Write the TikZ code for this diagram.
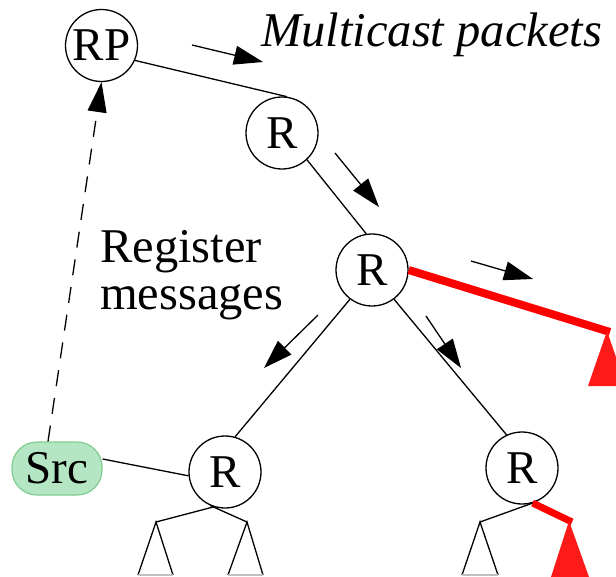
\documentclass[tikz,border=0pt]{standalone}
\usepackage{fontspec}
\setmainfont{Liberation Serif}
\usetikzlibrary{arrows.meta}
\definecolor{srcfill}{HTML}{B4E6C3}
\definecolor{srcdraw}{HTML}{80CC90}
\definecolor{treered}{HTML}{FF0000}
\definecolor{trifill}{HTML}{FF1A1A}
\definecolor{basegray}{HTML}{C0C0C0}
\tikzset{
  router/.style={draw, circle, minimum size=72pt, inner sep=0pt, line width=1.3pt,
    font=\fontsize{47}{47}\selectfont},
  srcbox/.style={draw=srcdraw, fill=srcfill, rectangle, rounded corners=25pt,
    minimum width=90pt, minimum height=53pt, inner sep=0pt, line width=1.2pt,
    font=\fontsize{47}{47}\selectfont},
  link/.style={line width=1.3pt},
  pkt/.style={line width=1.3pt, -{Triangle[length=29pt,width=19pt]}},
  reg/.style={line width=1.3pt, dash pattern=on 16pt off 12pt, -{Triangle[length=30pt,width=19pt]}},
  redlink/.style={treered, line width=8pt},
  subtri/.style={line width=1.3pt},
  lbl/.style={inner sep=0pt, font=\fontsize{48.5}{47}\selectfont},
}
\begin{document}
\begin{tikzpicture}[x=1pt,y=-1pt]
\useasboundingbox (0,0) rectangle (616,576);

% routers
\node[router] (RP) at (101.5,45.5) {RP};
\node[router] (R1) at (282,133) {R};
\node[router] (R2) at (372,270) {R};
\node[router] (R3) at (225,472) {R};
\node[router] (R4) at (522,468) {R};
\node[srcbox] (Src) at (57,468.5) {Src};

% labels
\node[lbl, anchor=base west, font=\fontsize{48.5}{47}\selectfont\itshape] (mc) at (261,46) {Multicast packets};
\node[lbl, anchor=west, align=left] (regmsg) at (100,275) {Register\\messages};

% tree links
\draw[link] (RP.-24) -- (R1.82);
\draw[link] (R1.-47) -- (R2.99);
\draw[link] (R2.-127) -- (R3.74);
\draw[link] (R2.-53) -- (R4.115);
\draw[link] ([yshift=9.5pt]Src.east) -- (R3.186);

% red branch from R2
\coordinate (rA) at (610,332);
\draw[redlink] (R2.east) -- (rA);
\fill[trifill] (607,331) -- (588,386) -- (626,386) -- cycle;

% subtrees under R3
\coordinate (t1) at (156,522);
\coordinate (t2) at (247,522);
\draw[link] (R3.-114) -- (t2);
\draw[link] (R3.-108) -- (t1);
\draw[subtri] (138,575) -- (t1) -- (173,575);
\draw[subtri] (228,575) -- (t2) -- (263,575);
\draw[basegray, line width=1.3pt] (138,575) -- (173,575);
\draw[basegray, line width=1.3pt] (228,575) -- (263,575);

% subtrees under R4
\coordinate (t3) at (480,522);
\coordinate (t4) at (572,522);
\draw[link] (R4.-73) -- (t3);
\draw[subtri] (462,575) -- (t3) -- (498,575);
\draw[basegray, line width=1.3pt] (462,575) -- (498,575);
\draw[treered, line width=7pt] (R4.-73) -- (t4);
\fill[trifill] (569,521) -- (551,577) -- (589,577) -- cycle;

% packet arrows
\coordinate (a1s) at (192,45);  \coordinate (a1e) at (263,62);
\coordinate (a2s) at (335,153); \coordinate (a2e) at (379,207);
\coordinate (a3s) at (471,261); \coordinate (a3e) at (533,279);
\coordinate (a4s) at (426,316); \coordinate (a4e) at (461,368);
\coordinate (a5s) at (318,315); \coordinate (a5e) at (264,368);
\draw[pkt] (a1s) -- (a1e);
\draw[pkt] (a2s) -- (a2e);
\draw[pkt] (a3s) -- (a3e);
\draw[pkt] (a4s) -- (a4e);
\draw[pkt] (a5s) -- (a5e);

% register messages
\draw[reg] ([xshift=-9pt]Src.north) -- (RP.south);
\end{tikzpicture}
\end{document}
